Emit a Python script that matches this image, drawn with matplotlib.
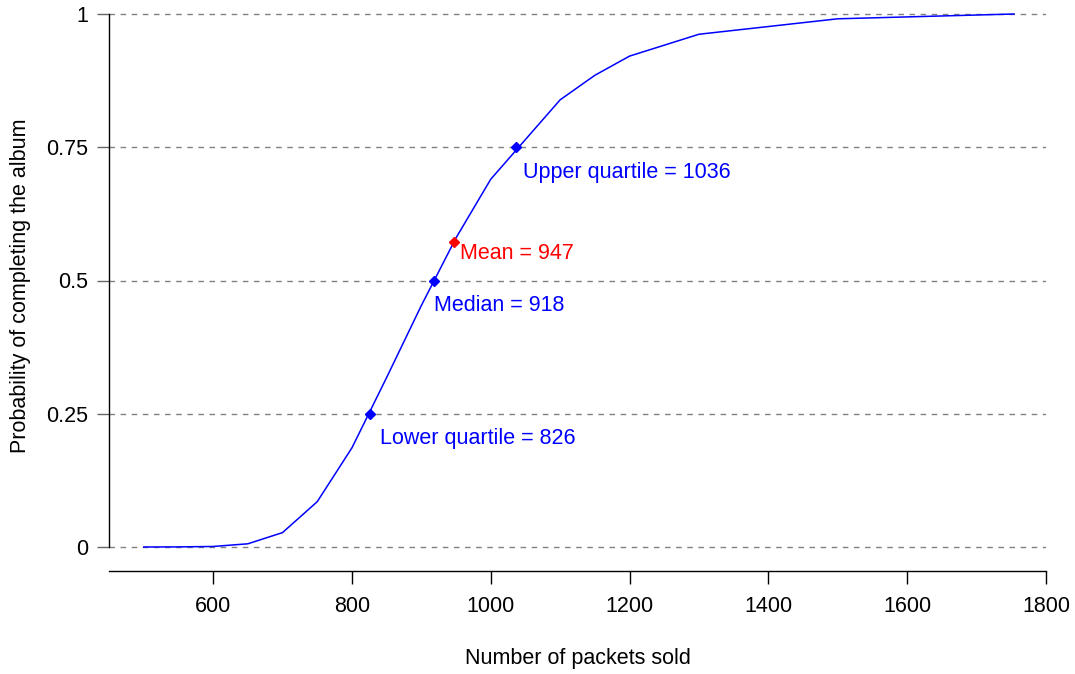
import matplotlib
matplotlib.use('Agg')
import matplotlib.pyplot as plt

plt.rcParams['font.family'] = ['Liberation Sans', 'DejaVu Sans']

# probability of completing the album vs packets sold
packets = [500, 550, 600, 650, 700, 750, 800, 850, 900, 950, 1000,
           1100, 1150, 1200, 1300, 1500, 1754]
prob = [0.0, 0.0002, 0.001, 0.006, 0.027, 0.085, 0.186, 0.318, 0.453,
        0.58, 0.69, 0.839, 0.885, 0.921, 0.962, 0.991, 1.0]

quart_x = [826, 918, 1036]
quart_y = [0.25, 0.5, 0.75]
quart_labels = ['Lower quartile = 826', 'Median = 918', 'Upper quartile = 1036']
mean_x, mean_y = 947, 0.572

yticks = [0, 0.25, 0.5, 0.75, 1]
ytick_labels = ['0', '0.25', '0.5', '0.75', '1']
xticks = [600, 800, 1000, 1200, 1400, 1600, 1800]

FS = 15.5

fig = plt.figure(figsize=(10.75, 6.74), dpi=100)
ax = fig.add_axes([109/1075, 1 - 571/674, (1046 - 109)/1075, 571/674])

for yv in yticks:
    ax.axhline(yv, color='#808080', lw=1.0, ls=(0, (4, 4)), zorder=1)

ax.plot(packets, prob, color='blue', lw=1.1, zorder=2)
ax.plot(quart_x, quart_y, ls='none', marker='D', ms=5.5, color='blue', zorder=3)
ax.plot([mean_x], [mean_y], ls='none', marker='D', ms=5.5, color='red', zorder=3)

offsets = [(7, -18), (0, -18), (5, -18)]
for xv, yv, lab, off in zip(quart_x, quart_y, quart_labels, offsets):
    ax.annotate(lab, (xv, yv), xytext=off, textcoords='offset points',
                color='blue', fontsize=FS, ha='left', va='center')
ax.annotate(f'Mean = {mean_x}', (mean_x, mean_y), xytext=(4, -8),
            textcoords='offset points', color='red', fontsize=FS,
            ha='left', va='center')

ax.set_xlim(450, 1800)
ax.set_ylim(-24/533, 1 + 14/533)
ax.set_xticks(xticks)
ax.set_yticks(yticks)
ax.set_yticklabels(ytick_labels)

for s in ['top', 'right']:
    ax.spines[s].set_visible(False)
ax.spines['left'].set_bounds(0, 1)
ax.spines['left'].set_linewidth(1.0)
ax.spines['bottom'].set_linewidth(1.0)
ax.tick_params(axis='x', length=9, width=1.0, labelsize=FS, pad=9)
ax.tick_params(axis='y', length=9, width=1.0, labelsize=FS, pad=6, color='#666666')

ax.set_xlabel('Number of packets sold', fontsize=FS, labelpad=22)
ax.set_ylabel('Probability of completing the album', fontsize=FS, labelpad=11)

fig.savefig('out.png', dpi=100)
